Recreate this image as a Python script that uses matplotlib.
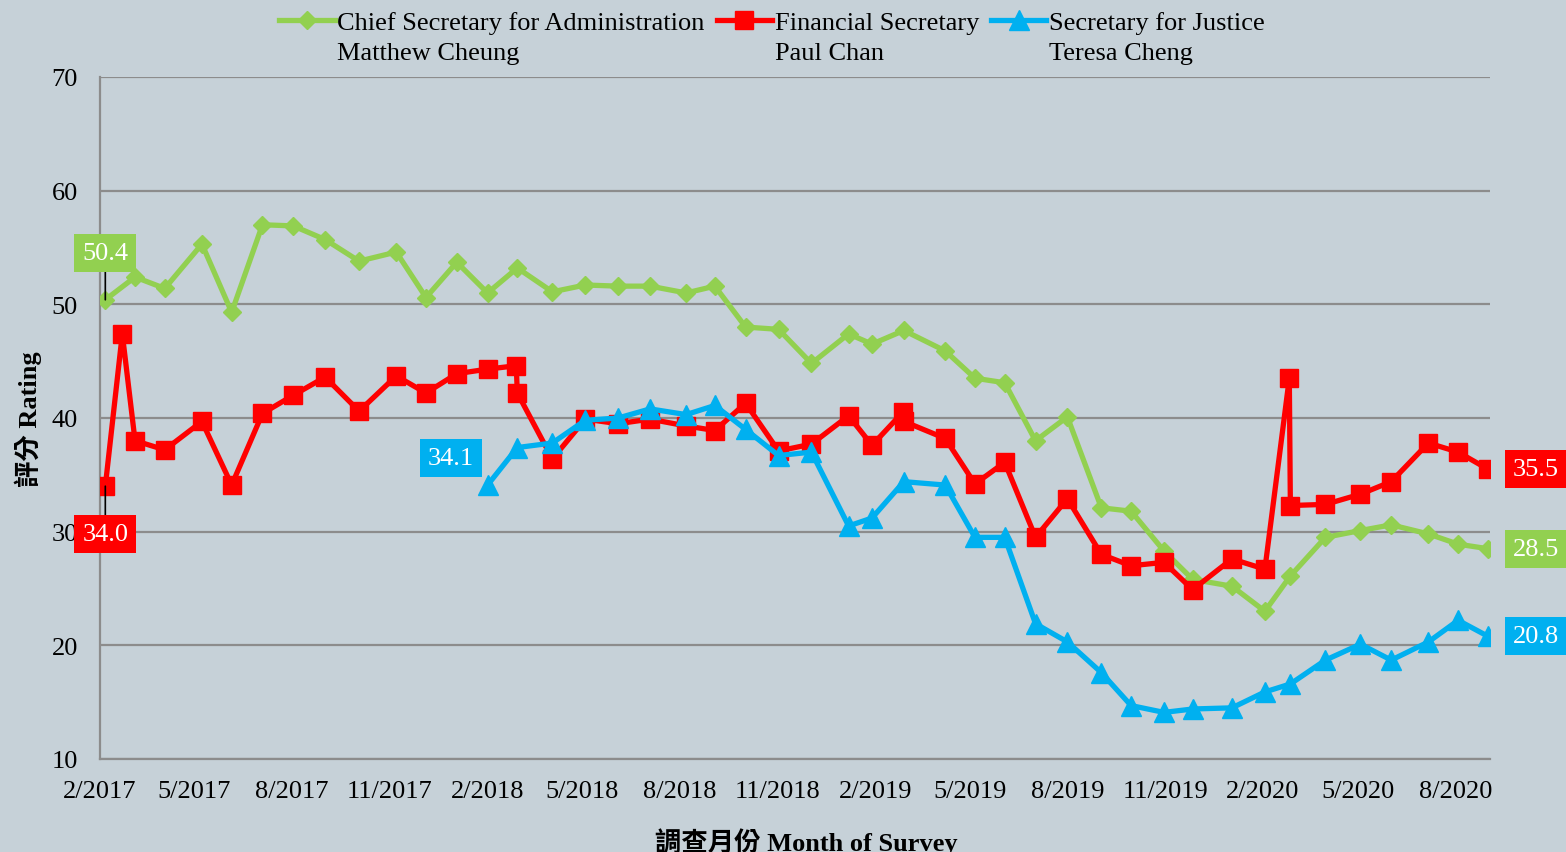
import matplotlib
matplotlib.use("Agg")
import matplotlib.pyplot as plt
import matplotlib.dates as mdates
import numpy as np

# survey dates and ratings
cs_dates = ["2017-02-06", "2017-03-06", "2017-04-03", "2017-05-08", "2017-06-05", "2017-07-04",
            "2017-08-02", "2017-09-01", "2017-10-03", "2017-11-07", "2017-12-05", "2018-01-03",
            "2018-02-01", "2018-03-01", "2018-04-03", "2018-05-04", "2018-06-04", "2018-07-04",
            "2018-08-07", "2018-09-03", "2018-10-02", "2018-11-02", "2018-12-03", "2019-01-07",
            "2019-01-29", "2019-02-28", "2019-04-08", "2019-05-06", "2019-06-03", "2019-07-02",
            "2019-08-01", "2019-09-02", "2019-09-30", "2019-10-31", "2019-11-27", "2020-01-03",
            "2020-02-03", "2020-02-27", "2020-03-31", "2020-05-03", "2020-06-01", "2020-07-06",
            "2020-08-03", "2020-08-31"]
cs_values = [50.4, 52.4, 51.4, 55.3, 49.3, 57.0, 56.9, 55.7, 53.8, 54.6, 50.6, 53.7,
             51.0, 53.2, 51.1, 51.7, 51.6, 51.6, 51.0, 51.6, 48.0, 47.8, 44.8, 47.4,
             46.5, 47.7, 45.9, 43.5, 43.1, 38.0, 40.1, 32.1, 31.8, 28.3, 25.8, 25.2,
             23.0, 26.1, 29.5, 30.1, 30.6, 29.8, 28.9, 28.5]

fs_dates = ["2017-02-06", "2017-02-22", "2017-03-06", "2017-04-03", "2017-05-08", "2017-06-05",
            "2017-07-04", "2017-08-02", "2017-09-01", "2017-10-03", "2017-11-07", "2017-12-05",
            "2018-01-03", "2018-02-01", "2018-02-28", "2018-03-01", "2018-04-03", "2018-05-04",
            "2018-06-04", "2018-07-04", "2018-08-07", "2018-09-03", "2018-10-02", "2018-11-02",
            "2018-12-03", "2019-01-07", "2019-01-29", "2019-02-27", "2019-02-28", "2019-04-08",
            "2019-05-06", "2019-06-03", "2019-07-02", "2019-08-01", "2019-09-02", "2019-09-30",
            "2019-10-31", "2019-11-27", "2020-01-03", "2020-02-03", "2020-02-26", "2020-02-27",
            "2020-03-31", "2020-05-03", "2020-06-01", "2020-07-06", "2020-08-03", "2020-08-31"]
fs_values = [34.0, 47.4, 38.0, 37.2, 39.7, 34.1, 40.4, 42.0, 43.6, 40.6, 43.7, 42.2,
             43.9, 44.3, 44.6, 42.2, 36.4, 39.9, 39.5, 39.9, 39.3, 38.9, 41.3, 37.1,
             37.7, 40.2, 37.6, 40.5, 39.7, 38.2, 34.2, 36.1, 29.5, 32.9, 28.0, 27.0,
             27.3, 24.9, 27.6, 26.7, 43.5, 32.3, 32.4, 33.3, 34.4, 37.8, 37.0, 35.5]

sj_dates = ["2018-02-01", "2018-03-01", "2018-04-03", "2018-05-04", "2018-06-04", "2018-07-04",
            "2018-08-07", "2018-09-03", "2018-10-02", "2018-11-02", "2018-12-03", "2019-01-07",
            "2019-01-29", "2019-02-28", "2019-04-08", "2019-05-06", "2019-06-03", "2019-07-02",
            "2019-08-01", "2019-09-02", "2019-09-30", "2019-10-31", "2019-11-27", "2020-01-03",
            "2020-02-03", "2020-02-27", "2020-03-31", "2020-05-03", "2020-06-01", "2020-07-06",
            "2020-08-03", "2020-08-31"]
sj_values = [34.1, 37.4, 37.8, 39.8, 40.0, 40.8, 40.3, 41.1, 39.0, 36.7, 37.0, 30.5,
             31.2, 34.4, 34.1, 29.5, 29.5, 21.9, 20.3, 17.6, 14.7, 14.1, 14.4, 14.5,
             15.9, 16.6, 18.7, 20.1, 18.7, 20.3, 22.2, 20.8]

cs_label = "Chief Secretary for Administration"
fs_label = "Financial Secretary"
sj_label = "Secretary for Justice"
names = ["Matthew Cheung", "Paul Chan", "Teresa Cheng"]

GREEN = "#92D050"
RED = "#FF0000"
BLUE = "#00B0F0"
BG = "#C6D1D8"
GRID = "#8C8C8C"

plt.rcParams["font.family"] = ["Liberation Serif", "Noto Sans CJK TC"]

W, H = 1566, 853
fig = plt.figure(figsize=(W / 100, H / 100), dpi=100, facecolor=BG)
ax = fig.add_axes([100 / W, 1 - 760 / H, 1390 / W, 682 / H])
ax.set_facecolor(BG)

cs_x = np.array(cs_dates, dtype="datetime64[D]")
fs_x = np.array(fs_dates, dtype="datetime64[D]")
sj_x = np.array(sj_dates, dtype="datetime64[D]")

ax.plot(cs_x, cs_values, color=GREEN, lw=3.8, marker="D", ms=9.5, mec=GREEN, label=cs_label, zorder=3)
ax.plot(fs_x, fs_values, color=RED, lw=3.8, marker="s", ms=12.5, mec=RED, label=fs_label, zorder=4)
ax.plot(sj_x, sj_values, color=BLUE, lw=3.8, marker="^", ms=14, mec=BLUE, label=sj_label, zorder=5)

ax.set_ylim(10, 70)
ax.set_yticks(range(10, 71, 10))
ax.set_xlim(np.datetime64("2017-02-01"), np.datetime64("2020-09-02"))
ax.xaxis.set_major_locator(mdates.MonthLocator(bymonth=[2, 5, 8, 11]))
ax.xaxis.set_major_formatter(plt.FuncFormatter(
    lambda v, pos: "{}/{}".format(mdates.num2date(v).month, mdates.num2date(v).year)))

ax.grid(axis="y", color=GRID, lw=1.6)
ax.set_axisbelow(True)
for side in ["top", "right"]:
    ax.spines[side].set_visible(False)
for side in ["left", "bottom"]:
    ax.spines[side].set_color(GRID)
    ax.spines[side].set_linewidth(1.6)
ax.tick_params(axis="both", length=0, labelsize=19, colors="black")
ax.tick_params(axis="y", pad=16)
ax.tick_params(axis="x", pad=15)

ax.set_xlabel("調查月份 Month of Survey", fontsize=19, fontweight="bold", labelpad=18)
ax.xaxis.label.set_x(0.508)
ax.set_ylabel("評分 Rating", fontsize=19, fontweight="bold", labelpad=7)

# value labels
def tag(x, y, text, color, dx, dy, leader=False):
    arrow = dict(arrowstyle="-", color="black", lw=1.2, shrinkA=0, shrinkB=0) if leader else None
    ax.annotate(text, xy=(x, y), xytext=(dx, dy), textcoords="offset pixels",
                ha="center", va="center", color="white", fontsize=19,
                bbox=dict(boxstyle="square,pad=0.3", fc=color, ec="none"),
                arrowprops=arrow, zorder=6, annotation_clip=False)

tag(cs_x[0], cs_values[0], "50.4", GREEN, 0, 47, leader=True)
tag(fs_x[0], fs_values[0], "34.0", RED, 0, -48, leader=True)
tag(sj_x[0], sj_values[0], "34.1", BLUE, -37, 27)
tag(fs_x[-1], fs_values[-1], "35.5", RED, 48, 0)
tag(cs_x[-1], cs_values[-1], "28.5", GREEN, 48, 0)
tag(sj_x[-1], sj_values[-1], "20.8", BLUE, 48, 0)

leg = fig.legend(loc="upper center", bbox_to_anchor=(772 / W, 1 - 12 / H), ncol=3, frameon=False,
                 fontsize=19, handlelength=2.1, handletextpad=0.1, columnspacing=0.45,
                 borderpad=0, borderaxespad=0)

# second line of each legend entry (office holder's name)
fig.canvas.draw()
for t, name in zip(leg.get_texts(), names):
    bb = t.get_window_extent()
    fig.text(bb.x0 / W, ((bb.y0 + bb.y1) / 2 - 30) / H, name, fontsize=19, ha="left", va="center")

fig.savefig("out.png", dpi=100, facecolor=BG)
